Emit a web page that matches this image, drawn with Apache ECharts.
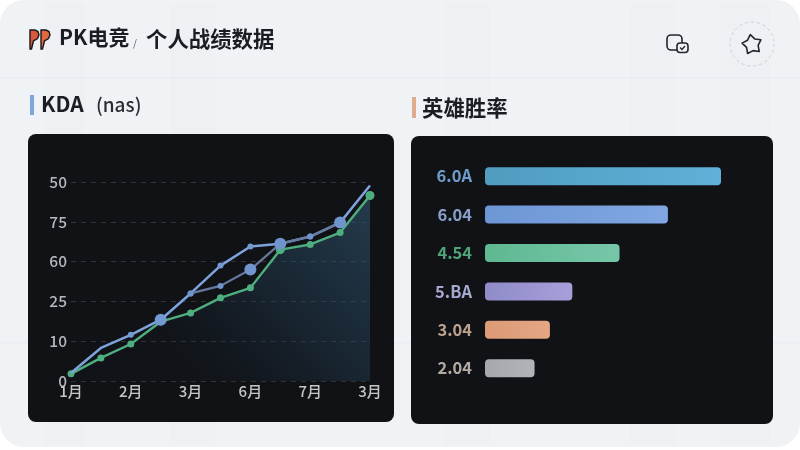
<!DOCTYPE html>
<html><head><meta charset="utf-8">
<style>html,body{margin:0;padding:0;background:#fff}#c{width:800px;height:450px}</style>
<script src="https://cdn.jsdelivr.net/npm/echarts@6/dist/echarts.min.js"></script>
</head><body><div id="c"></div>
<script>
const months = ['1月','','2月','','3月','','6月','','7月','','3月'];
const yTickLabels = ['0','10','25','60','75','50'];
const lightBlue = [0.2,0.83,1.16,1.54,2.2,2.9,3.38,3.45,3.63,3.98,4.91];
const slateBlue = [null,null,null,null,2.2,2.39,2.8,3.45,3.63,3.98,null];
const green = [0.18,0.58,0.93,1.49,1.71,2.09,2.34,3.3,3.43,3.73,4.66];
const heroLabels = ['6.0A','6.04','4.54','5.BA','3.04','2.04'];
const heroValues = [100,77.5,57,37,27.5,21];

const FONT = '"Noto Sans CJK SC","Noto Sans",sans-serif';
const bigLight = [3], noDotLight = [0,1,10], bigSlate = [6,7,9], bigGreen = [7,10];
const labelColors = ['#6f9ccb','#8aa0cc','#4fa478','#a5a8cf','#bba28f','#b3aaa3'];
const barColors = [['#4f9cbf','#60b0d9'],['#6d96d4','#80a7e3'],['#5fb892','#76c7a9'],['#8f8cc9','#a69fda'],['#dc9a76','#e5a684'],['#a5a9ae','#b0b4b8']];
const G = (a,b,c,d,s)=>new echarts.graphic.LinearGradient(a,b,c,d,s.map((color,i)=>({offset:i/(s.length-1),color})));
const flag = x => [[x,30],[x+5,30],[x+8,31.5],[x+9,35],[x+7.5,38.5],[x+3.5,41],[x+1.5,49],[x,49]];
const starPts = (cx,cy,R,r)=>Array.from({length:10},(_,i)=>{const a=(-100+36*i)*Math.PI/180,q=i%2?r:R;return [cx+q*Math.cos(a),cy+q*Math.sin(a)];});

const bg = [
 {type:'rect',z:-20,shape:{x:0,y:0,width:800,height:447,r:24},style:{fill:'#f0f3f6'}},
 ...[[45,40],[170,45],[445,45],[630,45],[720,50]].map(([x,w])=>({type:'rect',z:-19,shape:{x,y:3,width:w,height:442},style:{fill:'rgba(225,230,236,0.14)'}})),
 ...[78,343].map(y=>({type:'line',z:-18,shape:{x1:0,y1:y,x2:800,y2:y},style:{stroke:'rgba(205,210,218,0.28)',lineWidth:1}})),
 {type:'rect',z:-10,shape:{x:28,y:134,width:366,height:288,r:8},style:{fill:'#101216'}},
 {type:'rect',z:-10,shape:{x:411,y:136,width:362,height:288,r:8},style:{fill:'#101216'}},
 {type:'rect',z:-5,shape:{x:30,y:95,width:4,height:20},style:{fill:'#7ea6dc'}},
 {type:'rect',z:-5,shape:{x:412,y:97,width:4,height:21},style:{fill:'#e0ab8f'}},
 // logo
 {type:'polygon',z:5,shape:{points:flag(30)},style:{fill:'#d9583a',stroke:'#15181c',lineWidth:1.4}},
 {type:'polygon',z:5,shape:{points:flag(41)},style:{fill:'#e2683f',stroke:'#15181c',lineWidth:1.4}},
 // chat icon
 {type:'rect',z:5,shape:{x:667,y:35,width:15,height:15,r:4},style:{fill:'none',stroke:'#23262b',lineWidth:1.6}},
 {type:'rect',z:6,shape:{x:677,y:43,width:11,height:9.5,r:3},style:{fill:'#f0f3f6',stroke:'#23262b',lineWidth:1.6}},
 {type:'polyline',z:7,shape:{points:[[680,47.5],[682,49.5],[685,46]]},style:{fill:'none',stroke:'#23262b',lineWidth:1.3}},
 // star icon
 {type:'circle',z:5,shape:{cx:752,cy:44,r:22},style:{fill:'none',stroke:'#c9ced4',lineWidth:1,lineDash:[3,3]}},
 {type:'polygon',z:5,shape:{points:starPts(752,44.5,10,6.2)},style:{fill:'none',stroke:'#23262b',lineWidth:1.6,lineJoin:'round'}}
];

const chart = echarts.init(document.getElementById('c'),null,{renderer:'canvas'});
chart.setOption({
 animation:false,
 textStyle:{fontFamily:FONT},
 title:[
  {text:'PK电竞',left:59,top:27,padding:0,textStyle:{fontFamily:FONT,fontSize:21,fontWeight:700,color:'#1a1d21'}},
  {text:'/',left:133,top:38,padding:0,textStyle:{fontFamily:FONT,fontSize:10,fontWeight:400,color:'#5a5f66'}},
  {text:'个人战绩数据',left:146,top:28,padding:0,textStyle:{fontFamily:FONT,fontSize:21.4,fontWeight:600,color:'#1a1d21'}},
  {text:'KDA',left:41,top:94,padding:0,textStyle:{fontFamily:FONT,fontSize:21,fontWeight:700,color:'#1a1d21'}},
  {text:'(nas)',left:96,top:95,padding:0,textStyle:{fontFamily:FONT,fontSize:19,fontWeight:500,color:'#2a2d32'}},
  {text:'英雄胜率',left:422,top:97,padding:0,textStyle:{fontFamily:FONT,fontSize:21.4,fontWeight:700,color:'#1a1d21'}}
 ],
 graphic:{elements:bg},
 grid:[
  {left:71,width:299,top:182,height:199},
  {left:485,width:236,top:157,height:230.4}
 ],
 xAxis:[
  {type:'category',gridIndex:0,data:months,boundaryGap:false,axisLine:{show:false},axisTick:{show:false},
   axisLabel:{interval:0,margin:3,fontSize:15,fontWeight:500,color:'#c4c6c9',fontFamily:FONT}},
  {type:'value',gridIndex:1,min:0,max:100,show:false,splitLine:{show:false}}
 ],
 yAxis:[
  {type:'value',gridIndex:0,min:0,max:5,interval:1,axisLine:{show:false},axisTick:{show:false},
   axisLabel:{margin:4,fontSize:15.5,fontWeight:500,color:'#b5b8bc',fontFamily:FONT,formatter:v=>yTickLabels[v]},
   splitLine:{lineStyle:{color:'#303338',type:[5,5],width:1}}},
  {type:'category',gridIndex:1,data:heroLabels,inverse:true,axisLine:{show:false},axisTick:{show:false},splitLine:{show:false},
   axisLabel:{margin:13,fontSize:16.5,fontWeight:600,fontFamily:FONT,color:(v,i)=>labelColors[i]}}
 ],
 series:[
  {type:'line',name:'green',xAxisIndex:0,yAxisIndex:0,data:green,z:3,symbol:'circle',
   symbolSize:(v,p)=>bigGreen.includes(p.dataIndex)?9:7,
   lineStyle:{color:'#4fae7f',width:2.4},itemStyle:{color:'#4fae7f'},
   areaStyle:{color:G(1,0,0.35,1,['rgba(52,92,122,0.8)','rgba(38,68,92,0.55)','rgba(20,30,40,0.1)'])}},
  {type:'line',name:'light',xAxisIndex:0,yAxisIndex:0,data:lightBlue,z:4,symbol:'circle',
   symbolSize:(v,p)=>noDotLight.includes(p.dataIndex)?0:(bigLight.includes(p.dataIndex)?12:6),
   lineStyle:{color:'#7ea3dc',width:2.5},itemStyle:{color:'#7399d2'}},
  {type:'line',name:'slate',xAxisIndex:0,yAxisIndex:0,data:slateBlue,z:5,symbol:'circle',connectNulls:false,
   symbolSize:(v,p)=>bigSlate.includes(p.dataIndex)?12:6,
   lineStyle:{color:'#66799e',width:2.2},itemStyle:{color:'#6f95cc'}},
  {type:'bar',name:'胜率',xAxisIndex:1,yAxisIndex:1,data:heroValues.map((value,i)=>({value,itemStyle:{color:G(0,0,1,0,barColors[i])}})),
   barWidth:18,itemStyle:{borderRadius:4}}
 ]
});
</script></body></html>
